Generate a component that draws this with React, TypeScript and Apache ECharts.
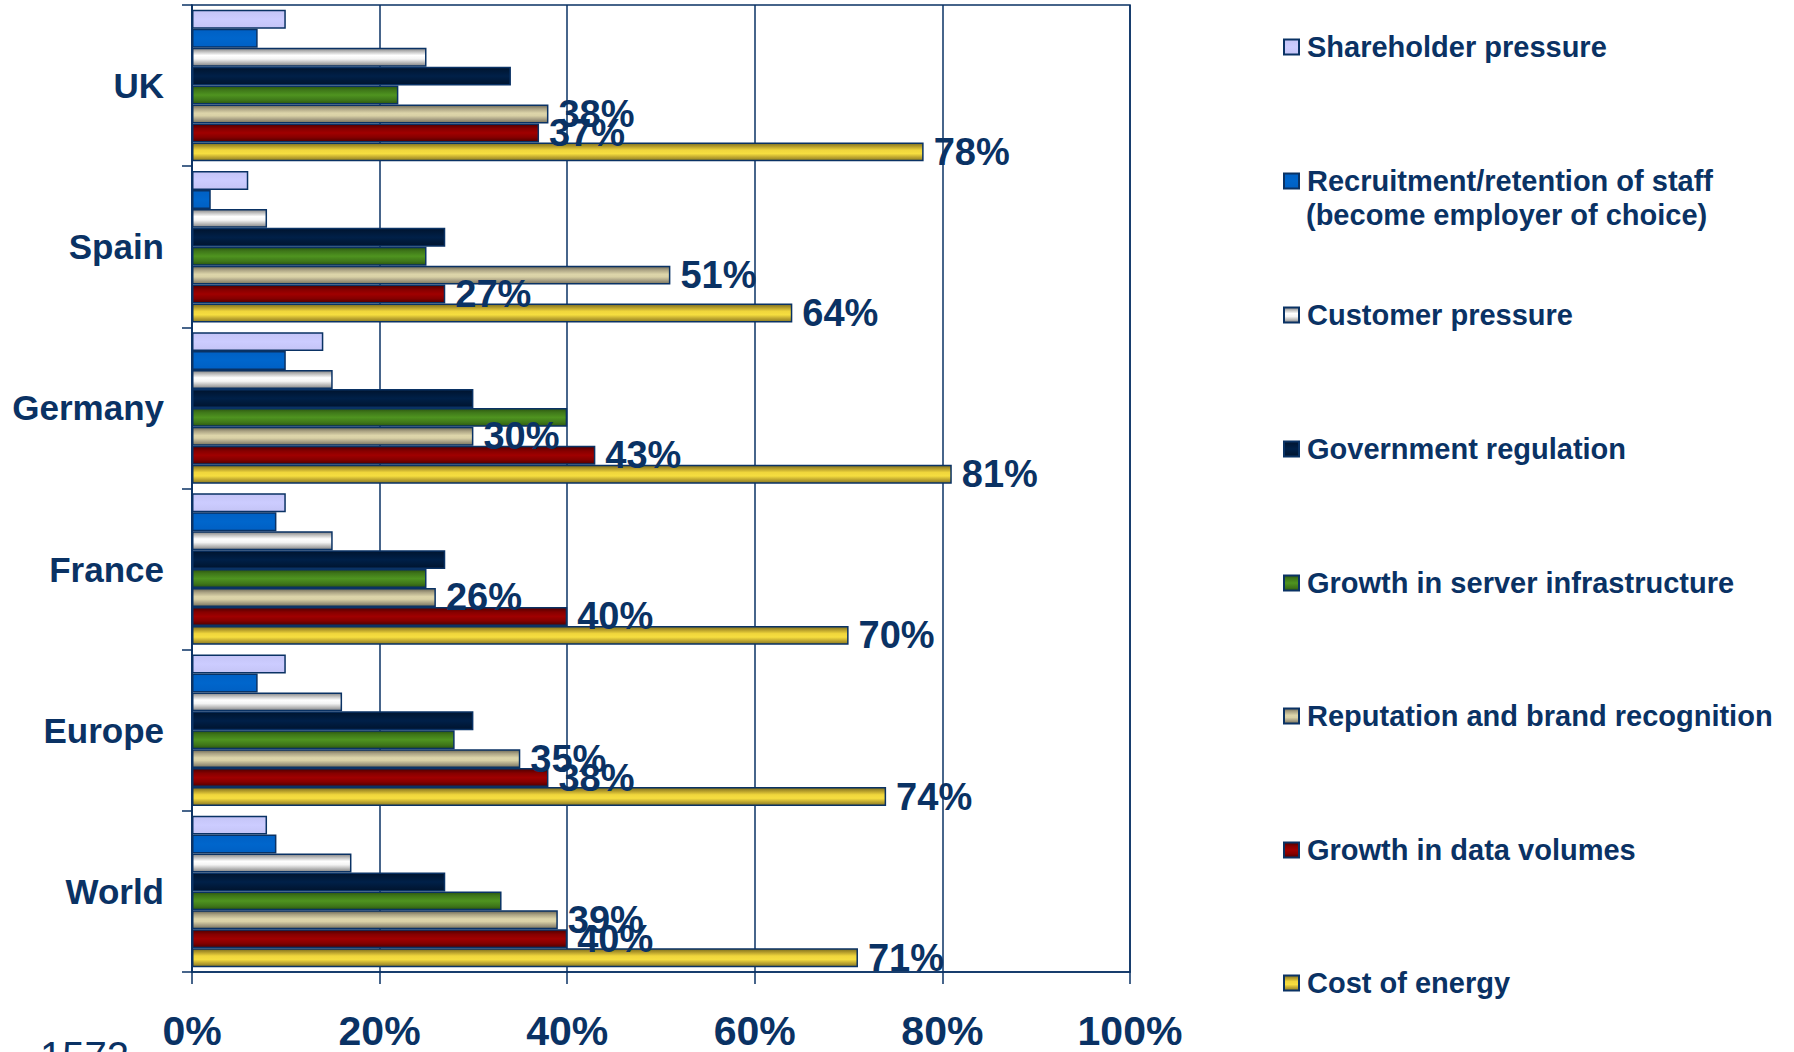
import React, { useEffect, useRef } from "react";
import * as echarts from "echarts";

const categories = ["UK", "Spain", "Germany", "France", "Europe", "World"];

const seriesNames = [
  "Shareholder pressure",
  "Recruitment/retention of staff (become employer of choice)",
  "Customer pressure",
  "Government regulation",
  "Growth in server infrastructure",
  "Reputation and brand recognition",
  "Growth in data volumes",
  "Cost of energy",
];

const shareholder = [10, 6, 14, 10, 10, 8];
const recruitment = [7, 2, 10, 9, 7, 9];
const customer = [25, 8, 15, 15, 16, 17];
const government = [34, 27, 30, 27, 30, 27];
const server = [22, 25, 40, 25, 28, 33];
const reputation = [38, 51, 30, 26, 35, 39];
const dataVolumes = [37, 27, 43, 40, 38, 40];
const energy = [78, 64, 81, 70, 74, 71];

const seriesValues = [shareholder, recruitment, customer, government, server, reputation, dataVolumes, energy];
const labelledSeries = [false, false, false, false, false, true, true, true];

const xTicks = [0, 20, 40, 60, 80, 100];

const NAVY = "#0a3264";
const FONT = "'Liberation Sans', Arial, sans-serif";

const gradientStops: [number, string][][] = [
  [[0, "#c4c4f6"], [0.5, "#ccccff"], [1, "#c4c4f6"]],
  [[0, "#0060c4"], [0.5, "#0066cc"], [1, "#0060c4"]],
  [[0, "#858585"], [0.2, "#c4c4c4"], [0.4, "#ffffff"], [0.6, "#f4f4f4"], [0.8, "#bdbdbd"], [1, "#858585"]],
  [[0, "#00142e"], [0.5, "#002048"], [1, "#00142e"]],
  [[0, "#2c5510"], [0.2, "#3e7619"], [0.5, "#4f9420"], [0.8, "#3e7619"], [1, "#2c5510"]],
  [[0, "#6e6a58"], [0.2, "#aaa283"], [0.45, "#ddd5aa"], [0.6, "#d9d1a6"], [0.8, "#a8a084"], [1, "#78735c"]],
  [[0, "#4e0000"], [0.25, "#860000"], [0.5, "#a00000"], [0.75, "#860000"], [1, "#4e0000"]],
  [[0, "#7d6e1e"], [0.2, "#b8a02c"], [0.4, "#f0d63c"], [0.6, "#f6de40"], [0.8, "#c0a830"], [1, "#8a7a22"]],
];

const legendCenters = [47, 181, 315, 449, 583, 716, 850, 983];

function makeGradient(stops: [number, string][]) {
  return new echarts.graphic.LinearGradient(
    0, 0, 0, 1,
    stops.map(([offset, color]) => ({ offset, color }))
  );
}

export default function App() {
  const ref = useRef<HTMLDivElement>(null);

  useEffect(() => {
    if (!ref.current) return;
    const chart = echarts.init(ref.current, undefined, { renderer: "svg" });

    const series = seriesNames.map((name, i) => ({
      name,
      type: "bar",
      data: seriesValues[i],
      barGap: "0%",
      barCategoryGap: "6%",
      itemStyle: {
        color: makeGradient(gradientStops[i]),
        borderColor: NAVY,
        borderWidth: 1.5,
      },
      label: {
        show: labelledSeries[i],
        position: "right",
        distance: 10,
        formatter: "{c}%",
        color: NAVY,
        fontSize: 38,
        fontWeight: "bold",
        fontFamily: FONT,
      },
    }));

    const legends = seriesNames.map((name, i) => ({
      data: [name],
      orient: "vertical",
      left: 1283,
      top: legendCenters[i] - 14.5,
      padding: 0,
      itemWidth: 15,
      itemHeight: 15,
      icon: "rect",
      selectedMode: false,
      formatter: (n: string) =>
        n.startsWith("Recruitment") ? "Recruitment/retention of staff" : n,
      textStyle: {
        color: NAVY,
        fontSize: 29,
        fontWeight: "bold",
        fontFamily: FONT,
        padding: [0, 0, 0, 3],
      },
    }));

    chart.setOption({
      animation: false,
      backgroundColor: "#ffffff",
      grid: {
        left: 192,
        right: 664,
        top: 5,
        bottom: 80,
        show: true,
        borderColor: NAVY,
        borderWidth: 1.5,
      },
      xAxis: {
        type: "value",
        min: xTicks[0],
        max: xTicks[xTicks.length - 1],
        interval: 20,
        axisLine: { show: true, lineStyle: { color: NAVY, width: 1.5 } },
        axisTick: { show: true, length: 12, lineStyle: { color: NAVY, width: 1.5 } },
        splitLine: { show: true, lineStyle: { color: NAVY, width: 1.5 } },
        axisLabel: {
          formatter: "{value}%",
          color: NAVY,
          fontSize: 41,
          fontWeight: "bold",
          fontFamily: FONT,
          margin: 38,
        },
      },
      yAxis: {
        type: "category",
        data: categories,
        inverse: true,
        axisLine: { show: true, lineStyle: { color: NAVY, width: 1.5 } },
        axisTick: { show: true, length: 10, lineStyle: { color: NAVY, width: 1.5 } },
        axisLabel: {
          color: NAVY,
          fontSize: 35,
          fontWeight: "bold",
          fontFamily: FONT,
          margin: 28,
        },
      },
      legend: legends,
      graphic: [
        {
          type: "text",
          left: 1306,
          top: 200,
          style: {
            text: "(become employer of choice)",
            fill: NAVY,
            fontSize: 29,
            fontWeight: "bold",
            fontFamily: FONT,
          },
        },
        {
          type: "text",
          left: 40,
          top: 1036,
          style: {
            text: "1572",
            fill: NAVY,
            fontSize: 40,
            fontFamily: FONT,
          },
        },
      ],
      series,
    });

    return () => chart.dispose();
  }, []);

  return (
    <div
      ref={ref}
      style={{ position: "absolute", left: 0, top: 0, width: 1794, height: 1052 }}
    />
  );
}
